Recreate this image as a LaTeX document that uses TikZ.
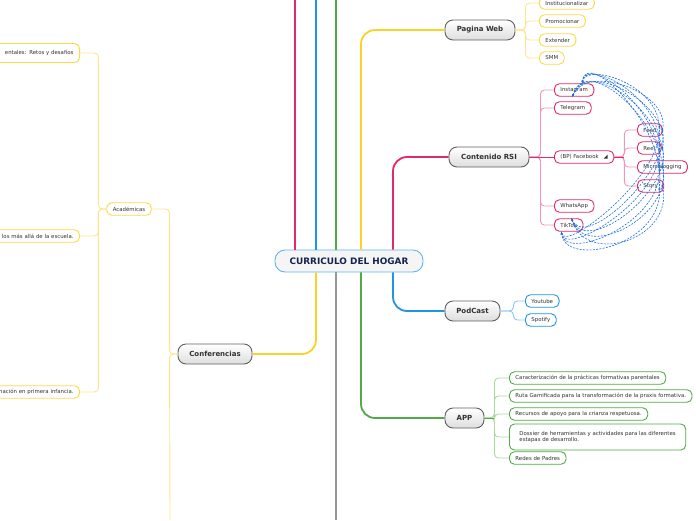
\documentclass[tikz,border=0pt]{standalone}
\usepackage{fontspec}
\setmainfont{DejaVu Sans}
\usetikzlibrary{arrows.meta,positioning}

\begin{document}
\begin{tikzpicture}[x=1pt, y=-1pt]
\definecolor{rosa}{RGB}{226,40,105}
\definecolor{rosalt}{RGB}{242,150,185}
\definecolor{azul}{RGB}{30,150,225}
\definecolor{azullt}{RGB}{140,200,240}
\definecolor{verde}{RGB}{80,170,70}
\definecolor{verdelt}{RGB}{170,218,160}
\definecolor{amarillo}{RGB}{250,210,40}
\definecolor{amarillolt}{RGB}{252,230,140}
\definecolor{gris}{RGB}{150,150,150}
\definecolor{borde}{RGB}{95,95,95}
\definecolor{texto}{RGB}{50,50,50}
\definecolor{navy}{RGB}{20,35,80}
\definecolor{flecha}{RGB}{30,110,230}

\tikzset{
  main/.style={draw=borde, line width=0.9pt, rounded corners=8pt,
    top color=white, bottom color=black!13, minimum height=20pt,
    inner sep=0pt, font=\fontsize{7}{8}\selectfont\bfseries, text=texto},
  leaf/.style={draw=#1, line width=0.9pt, fill=white, rounded corners=5pt,
    minimum height=12.5pt, inner xsep=6pt, inner ysep=0pt, anchor=west,
    font=\fontsize{5.4}{6.4}\selectfont, text=texto},
  branch/.style={draw=#1, line width=1.8pt, rounded corners=14pt},
  twig/.style={draw=#1, line width=0.9pt, rounded corners=4pt},
  rel/.style={draw=flecha, dash pattern=on 2pt off 1.3pt, line width=0.6pt,
    {Stealth[length=2.5pt]}-{Stealth[length=2.5pt]}},
}

\useasboundingbox (0,0) rectangle (696,520);
\clip (0,0) rectangle (696,520);

% ======================================================
% NODI PRINCIPALI
% ======================================================
\node[draw=azul!70, line width=0.9pt, fill=black!4, rounded corners=10pt,
    minimum width=148pt, minimum height=22pt,
    font=\fontsize{8.9}{9}\selectfont\bfseries, text=navy] (hogar) at (349,261) {CURRICULO DEL HOGAR};

\node[main, minimum width=70pt] (web) at (480,30) {Pagina Web};
\node[main, minimum width=80pt] (rsi) at (489,157) {Contenido RSI};
\node[main, minimum width=55pt] (pod) at (472.5,311) {PodCast};
\node[main, minimum width=39pt] (app) at (464.5,418) {APP};
\node[main, minimum width=74pt] (conf) at (215,354) {Conferencias};

% bordi pagina
\coordinate (topR) at (295,0);
\coordinate (topA) at (316,0);
\coordinate (topV) at (336,0);
\coordinate (bajoG) at (336,520);
\coordinate (bajoC) at (170,520);

% rami
\draw[branch=rosa] (topR) -- (hogar.north -| topR);
\draw[branch=azul] (topA) -- (hogar.north -| topA);
\draw[branch=verde] (topV) -- (hogar.north -| topV);
\draw[branch=gris] (hogar.south -| bajoG) -- (bajoG);

\draw[branch=amarillo] ([xshift=12pt]hogar.north) |- (web.west);
\draw[branch=rosa] ([xshift=44pt]hogar.north) |- (rsi.west);
\draw[branch=amarillo] ([xshift=-33pt]hogar.south) |- (conf.east);
\draw[branch=verde] ([xshift=12pt]hogar.south) |- (app.west);
\draw[branch=azul] ([xshift=44pt]hogar.south) |- (pod.west);

% ======================================================
% PAGINA WEB
% ======================================================
\foreach \n/\t/\y in {w1/Institucionalizar/3, w2/Promocionar/21, w3/Extender/40, w4/SMM/58} {
  \node[leaf=amarillo!85] (\n) at (539,\y) {\t};
  \draw[twig=amarillolt] (web.east) -- ++(10,0) |- (\n.west);
}

% ======================================================
% CONTENIDO RSI
% ======================================================
\foreach \n/\t/\y in {ig/Instagram/90, tg/Telegram/108, wa/WhatsApp/206, tt/TikTok/225} {
  \node[leaf=rosa] (\n) at (554,\y) {\t};
  \draw[twig=rosalt] (rsi.east) -- ++(11,0) |- (\n.west);
}
\node[leaf=rosa, minimum width=58pt] (fb) at (554,157) {(BP) Facebook\hspace{5pt}◢};
\draw[twig=rosa] (rsi.east) -- (fb.west);

\foreach \n/\t/\y in {feed/Feed/130, reel/Reel/148, micro/Microblogging/167, story/Story/186} {
  \node[leaf=rosa] (\n) at (637,\y) {\t};
  \draw[twig=rosalt] (fb.east) -- ++(10,0) |- (\n.west);
}
\draw[twig=rosa] (fb.east) -- ++(10,0);

% relazioni
\foreach \t/\o in {feed/0, reel/5, micro/10, story/15} {
  \draw[rel] ([xshift=-12pt]ig.north east) .. controls +(2,-22-\o) and +(6+\o/4,-50-\o) .. ([xshift=22pt,yshift=-5pt]\t.west);
  \draw[rel] ([xshift=-22pt]ig.south east) .. controls +(14,-34-\o) and +(10+\o/4,-40-\o) .. ([xshift=25pt,yshift=-2pt]\t.west);
  \draw[rel] ([xshift=-12pt]tt.north east) .. controls +(14,34+\o) and +(10+\o/4,40+\o) .. ([xshift=25pt,yshift=2pt]\t.west);
  \draw[rel] ([xshift=-22pt]tt.south east) .. controls +(2,22+\o) and +(6+\o/4,50+\o) .. ([xshift=22pt,yshift=5pt]\t.west);
}

% ======================================================
% PODCAST
% ======================================================
\foreach \n/\t/\y in {yt/Youtube/301, sp/Spotify/320} {
  \node[leaf=azul] (\n) at (525,\y) {\t};
  \draw[twig=azullt] (pod.east) -- ++(13,0) |- (\n.west);
}

% ======================================================
% APP
% ======================================================
\foreach \n/\t/\y in {a1/{Caracterización de la prácticas formativas parentales}/378,
    a2/{Ruta Gamificada para la transformación de la praxis formativa.}/396,
    a3/{Recursos de apoyo para la crianza respetuosa.}/414,
    a5/{Redes de Padres}/458} {
  \node[leaf=verde] (\n) at (509,\y) {\t};
  \draw[twig=verdelt] (app.east) -- ++(10,0) |- (\n.west);
}
\node[leaf=verde, minimum height=26pt, inner xsep=10pt, align=left] (a4) at (509,437)
  {Dossier de herramientas y actividades para las diferentes\\estapas de desarrollo.};
\draw[twig=verdelt] (app.east) -- ++(10,0) |- (a4.west);
\draw[twig=verde] (app.east) -- ++(10,0);

% ======================================================
% CONFERENCIAS
% ======================================================
\node[leaf=amarillo!85, anchor=center] (acad) at (129,209) {Académicas};
\draw[twig=amarillolt] (conf.west) -- ++(-8,0) |- (acad.east);
\draw[twig=amarillolt] (conf.west) -- ++(-8,0) -- (bajoC);

\node[leaf=amarillo!85, anchor=east, minimum height=19pt, text width=100pt, align=right] (c1) at (80,53) {entales: Retos y desafíos\hspace{5pt}\\[5pt]};
\node[leaf=amarillo!85, anchor=east, text width=100pt, align=right] (c2) at (80,236) {los más allá de la escuela.};
\node[leaf=amarillo!85, anchor=east, text width=100pt, align=right] (c3) at (80,392) {nación en primera infancia.};
\foreach \n in {c1,c2,c3} {
  \draw[twig=amarillolt] (acad.west) -- ++(-8,0) |- (\n.east);
}

\end{tikzpicture}
\end{document}
